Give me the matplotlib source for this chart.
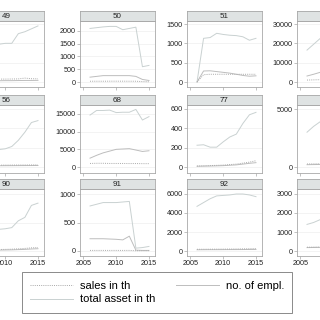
import matplotlib
matplotlib.use("Agg")
import matplotlib.pyplot as plt
from matplotlib.lines import Line2D

plt.rcParams['font.family'] = ['Liberation Sans', 'DejaVu Sans']

years = [2006, 2007, 2008, 2009, 2010, 2011, 2012, 2013, 2014, 2015]

panels = ["49", "50", "51", "54", "56", "68", "77", "80", "90", "91", "92", "93"]

total_asset = {
    "49": [1800, 1850, 1900, 1950, 2000, 2000, 2500, 2600, 2750, 2900],
    "50": [2100, 2130, 2160, 2180, 2180, 2050, 2100, 2150, 600, 650],
    "51": [0, 1130, 1150, 1260, 1230, 1210, 1200, 1170, 1080, 1130],
    "54": [16500, 19500, 22500, 24000, 25000, 26000, 26500, 27000, 27500, 28000],
    "56": [4000, 4200, 4400, 4500, 4700, 5300, 6900, 9000, 11500, 12000],
    "68": [14700, 16000, 16000, 16100, 15400, 15500, 15500, 16300, 13300, 14250],
    "77": [225, 230, 205, 205, 260, 310, 340, 450, 540, 565],
    "80": [3000, 3500, 3900, 4100, 4200, 4300, 4400, 4500, 4600, 4700],
    "90": [330, 350, 360, 380, 390, 410, 530, 590, 800, 840],
    "91": [790, 820, 850, 850, 850, 860, 870, 50, 60, 80],
    "92": [4700, 5100, 5500, 5800, 5850, 5900, 6000, 6000, 5900, 5720],
    "93": [1400, 1500, 1650, 1750, 1850, 1900, 1950, 2000, 2050, 2100],
}
employees = {
    "49": [60, 60, 65, 65, 70, 70, 75, 80, 80, 85],
    "50": [190, 220, 250, 250, 250, 250, 250, 220, 100, 60],
    "51": [0, 285, 290, 270, 250, 230, 200, 170, 150, 160],
    "54": [3100, 4000, 5000, 5200, 5400, 5500, 5600, 5700, 5800, 5900],
    "56": [300, 310, 320, 330, 340, 350, 360, 370, 380, 390],
    "68": [2500, 3300, 4000, 4500, 5000, 5100, 5200, 4800, 4400, 4600],
    "77": [8, 9, 10, 12, 14, 18, 22, 30, 38, 45],
    "80": [200, 210, 220, 230, 240, 250, 260, 270, 280, 290],
    "90": [10, 12, 14, 16, 18, 20, 24, 28, 35, 40],
    "91": [215, 215, 215, 210, 205, 195, 260, 15, 10, 10],
    "92": [130, 135, 140, 140, 145, 150, 150, 155, 160, 165],
    "93": [180, 185, 190, 195, 200, 205, 210, 215, 220, 225],
}
sales = {
    "49": [140, 145, 150, 150, 150, 155, 160, 200, 170, 165],
    "50": [30, 30, 30, 32, 32, 32, 30, 30, 15, 10],
    "51": [0, 190, 200, 200, 200, 200, 200, 200, 200, 200],
    "54": [1000, 1100, 1200, 1250, 1300, 1350, 1400, 1450, 1500, 1550],
    "56": [450, 460, 470, 480, 490, 500, 510, 520, 530, 540],
    "68": [1000, 1050, 1050, 1000, 1000, 1000, 980, 980, 950, 950],
    "77": [10, 12, 15, 17, 20, 25, 30, 40, 50, 65],
    "80": [260, 270, 280, 290, 300, 310, 320, 330, 340, 350],
    "90": [20, 22, 24, 26, 28, 32, 38, 45, 55, 60],
    "91": [10, 10, 10, 10, 10, 10, 10, 5, 5, 5],
    "92": [180, 185, 190, 195, 200, 205, 215, 225, 240, 250],
    "93": [200, 205, 210, 215, 220, 225, 230, 235, 240, 245],
}
yticks = {
    "49": [0, 1000, 2000, 3000],
    "50": [0, 500, 1000, 1500, 2000],
    "51": [0, 500, 1000, 1500],
    "54": [0, 10000, 20000, 30000],
    "56": [0, 5000, 10000, 15000],
    "68": [0, 5000, 10000, 15000],
    "77": [0, 200, 400, 600],
    "80": [0, 5000],
    "90": [0, 500, 1000],
    "91": [0, 500, 1000],
    "92": [0, 2000, 4000, 6000],
    "93": [0, 1000, 2000, 3000],
}
xticks = [2005, 2010, 2015]
legend_labels = ["sales in th", "no. of empl.", "total asset in th"]

# ---- layout (pixels in a 320x320 canvas); the canvas crops a wider grid ----
W = H = 320.0
fig = plt.figure(figsize=(3.2, 3.2), dpi=100)
fig.patch.set_facecolor("white")

col_left = [-31, 80, 187, 297]
pw = 75
row_top = [21, 105, 189]
row_bot = [87, 173, 256]
strip_h = 10
ylims = {
    "49": (-259, 3155), "50": (-196, 2392), "51": (-129, 1578), "54": (-2586, 31552),
    "56": (-1552, 16034), "68": (-1698, 17547), "77": (-62, 641), "80": (-517, 5345),
    "90": (-88, 1088), "91": (-88, 1088), "92": (-526, 6526), "93": (-263, 3263),
}
xlim = (2004.47, 2015.92)

c_asset = "#c9d1d1"
c_empl = "#bdbdbd"
c_sales = "#a9a9a9"
frame_c = "#a8a8a8"
strip_fc = "#dfe3e3"

def inside(px):
    return -2 <= px <= W + 2

for i, p in enumerate(panels):
    r, c = divmod(i, 4)
    l = col_left[c]
    t, b = row_top[r], row_bot[r]
    ax = fig.add_axes([l / W, 1 - b / H, pw / W, (b - t) / H])
    ax.plot(years, total_asset[p], color=c_asset, lw=0.7, zorder=3)
    ax.plot(years, employees[p], color=c_empl, lw=0.7, zorder=3)
    ax.plot(years, sales[p], color=c_sales, lw=0.7, ls=(0, (1, 1.2)), zorder=3)
    ax.set_xlim(*xlim)
    ax.set_ylim(*ylims[p])
    ax.set_yticks(yticks[p])
    # labels that fall entirely outside the cropped canvas are left empty
    ax.set_yticklabels([str(v) if c > 0 else "" for v in yticks[p]])
    ax.set_xticks(xticks)
    if r == 2:
        labs = []
        for v in xticks:
            px = l + (v - xlim[0]) / (xlim[1] - xlim[0]) * pw
            labs.append(str(v) if -10 <= px <= W + 8 else "")
        ax.set_xticklabels(labs)
    else:
        ax.set_xticklabels([])
        ax.tick_params(axis="x", length=0)
    ax.tick_params(axis="both", labelsize=5.2, colors="#222222", length=2, width=0.5, pad=1.2)
    ax.tick_params(axis="both", color=frame_c)
    ax.grid(axis="y", color="#eeeeee", lw=0.5, zorder=0)
    for s in ax.spines.values():
        s.set_color(frame_c)
        s.set_linewidth(0.6)
    # strip
    sax = fig.add_axes([l / W, 1 - t / H, pw / W, strip_h / H])
    sax.set_facecolor(strip_fc)
    sax.set_xticks([])
    sax.set_yticks([])
    for s in sax.spines.values():
        s.set_color(frame_c)
        s.set_linewidth(0.6)
    if inside(l + pw / 2):
        sax.text(0.5, 0.45, p, ha="center", va="center", fontsize=5.8, color="#222222",
                 transform=sax.transAxes)

# legend
handles = [
    Line2D([], [], color=c_sales, lw=0.7, ls=(0, (1, 1.2))),
    Line2D([], [], color=c_empl, lw=0.7),
    Line2D([], [], color=c_asset, lw=0.7),
]
order_h = [handles[0], handles[2], handles[1]]
order_l = [legend_labels[0], legend_labels[2], legend_labels[1]]
leg = fig.legend(order_h, order_l, ncol=2, loc="center",
                 bbox_to_anchor=(157 / W, 1 - 292.5 / H), fontsize=8,
                 frameon=True, fancybox=False, edgecolor="#555555",
                 handlelength=3.9, handletextpad=0.6, columnspacing=1.8,
                 borderpad=0.75, labelspacing=0.35)
leg.get_frame().set_linewidth(0.6)

fig.savefig("out.png", dpi=100, facecolor="white")
